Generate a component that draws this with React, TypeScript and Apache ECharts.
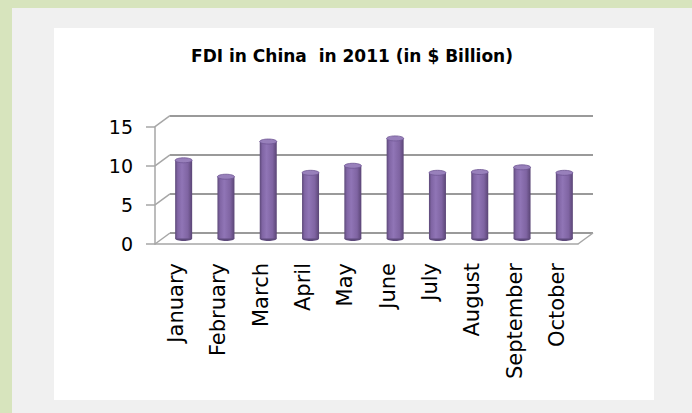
import React, { useEffect, useRef } from "react";
import * as echarts from "echarts";

const chartTitle = "FDI in China  in 2011 (in $ Billion)";
const categories = [
  "January",
  "February",
  "March",
  "April",
  "May",
  "June",
  "July",
  "August",
  "September",
  "October",
];
const fdiValues = [10.0, 7.9, 12.4, 8.4, 9.3, 12.8, 8.4, 8.5, 9.1, 8.4];
const yTicks = [0, 5, 10, 15];

const DX = 15;
const DY = -11;

export default function App() {
  const ref = useRef<HTMLDivElement>(null);

  useEffect(() => {
    if (!ref.current) return;
    const chart = echarts.init(ref.current, undefined, { renderer: "svg" });

    const barFill = new echarts.graphic.LinearGradient(0, 0, 1, 0, [
      { offset: 0, color: "#5c4878" },
      { offset: 0.15, color: "#8065a4" },
      { offset: 0.4, color: "#9075b6" },
      { offset: 0.75, color: "#7f64a2" },
      { offset: 1, color: "#5a4575" },
    ]);

    const option: any = {
      animation: false,
      backgroundColor: "#d7e4bd",
      graphic: [
        {
          type: "rect",
          z: -20,
          shape: { x: 12, y: 8, width: 680, height: 405 },
          style: { fill: "#f0f0f0" },
        },
        {
          type: "rect",
          z: -19,
          shape: { x: 54, y: 28, width: 600, height: 372 },
          style: { fill: "#ffffff" },
        },
        {
          type: "text",
          x: 352,
          y: 56,
          style: {
            text: chartTitle,
            align: "center",
            verticalAlign: "middle",
            fontFamily: "DejaVu Sans",
            fontWeight: "bold",
            fontSize: 17,
            fill: "#000",
          },
        },
      ],
      grid: [
        { left: 155, top: 126.7, width: 423, height: 117.3 },
        { left: 155 + DX, top: 126.7 + DY, width: 423, height: 117.3 },
      ],
      xAxis: [
        {
          gridIndex: 0,
          type: "category",
          data: categories,
          axisLine: { lineStyle: { color: "#a6a6a6", width: 1.5 } },
          axisTick: { length: 8, lineStyle: { color: "#a6a6a6", width: 1.5 } },
          axisLabel: {
            rotate: 90,
            margin: 19,
            fontFamily: "DejaVu Sans",
            fontSize: 21,
            color: "#000",
          },
        },
        { gridIndex: 1, type: "category", data: categories, show: false },
      ],
      yAxis: [
        {
          gridIndex: 0,
          type: "value",
          min: 0,
          max: 15,
          interval: 5,
          axisLine: { show: true, lineStyle: { color: "#a6a6a6", width: 1.5 } },
          axisTick: { show: true, length: 9, lineStyle: { color: "#a6a6a6", width: 1.5 } },
          splitLine: { show: false },
          axisLabel: {
            margin: 22,
            fontFamily: "DejaVu Sans",
            fontSize: 19,
            color: "#000",
            formatter: (v: number) => (yTicks.includes(v) ? String(v) : ""),
          },
        },
        {
          gridIndex: 1,
          type: "value",
          min: 0,
          max: 15,
          interval: 5,
          axisLine: { show: false },
          axisTick: { show: false },
          axisLabel: { show: false },
          splitLine: { show: true, lineStyle: { color: "#9a9a9a", width: 2 } },
        },
      ],
      series: [
        {
          type: "custom",
          xAxisIndex: 0,
          yAxisIndex: 0,
          z: 1,
          silent: true,
          data: yTicks.map((v) => [0, v]),
          renderItem: (params: any, api: any) => {
            const cs = params.coordSys;
            const v = api.value(1);
            const y = api.coord([0, v])[1];
            const children: any[] = [
              {
                type: "line",
                shape: { x1: cs.x, y1: y, x2: cs.x + DX, y2: y + DY },
                style: { stroke: "#a6a6a6", lineWidth: 1.5 },
              },
            ];
            if (v === 0) {
              children.push({
                type: "line",
                shape: {
                  x1: cs.x + cs.width,
                  y1: y,
                  x2: cs.x + cs.width + DX,
                  y2: y + DY,
                },
                style: { stroke: "#a6a6a6", lineWidth: 1.5 },
              });
            }
            return { type: "group", children };
          },
        },
        {
          type: "custom",
          xAxisIndex: 0,
          yAxisIndex: 0,
          z: 5,
          data: fdiValues.map((v, i) => [i, v]),
          renderItem: (params: any, api: any) => {
            const i = api.value(0);
            const v = api.value(1);
            const top = api.coord([i, v]);
            const base = api.coord([i, 0]);
            const cx = top[0] + DX / 2;
            const yTop = top[1] + DY / 2;
            const yBase = base[1] + DY / 2;
            const w = 17;
            return {
              type: "group",
              children: [
                {
                  type: "ellipse",
                  shape: { cx, cy: yBase, rx: w / 2, ry: 2.5 },
                  style: { fill: "#5e4a7c" },
                },
                {
                  type: "rect",
                  shape: { x: cx - w / 2, y: yTop, width: w, height: yBase - yTop },
                  style: { fill: barFill },
                },
                {
                  type: "ellipse",
                  shape: { cx, cy: yTop, rx: w / 2, ry: 2.5 },
                  style: { fill: "#9880bb", stroke: "#6e5693", lineWidth: 0.8 },
                },
              ],
            };
          },
        },
      ],
    };

    chart.setOption(option);
    return () => chart.dispose();
  }, []);

  return (
    <div
      ref={ref}
      style={{ position: "fixed", left: 0, top: 0, width: 692, height: 413 }}
    />
  );
}
